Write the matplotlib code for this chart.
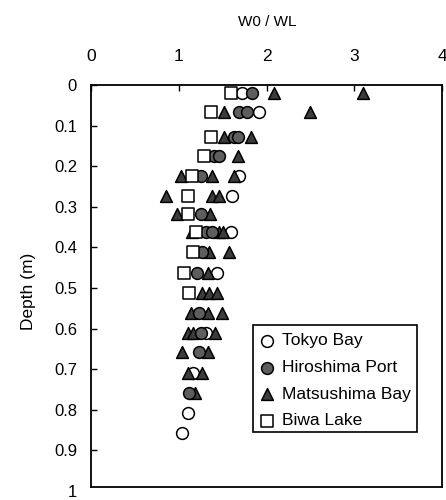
import matplotlib
matplotlib.use("Agg")
import matplotlib.pyplot as plt
from matplotlib.patches import Rectangle

plt.rcParams['font.family'] = ['Liberation Sans', 'DejaVu Sans']

# Depth (m) and W0/WL for each site
tokyo_depth = [0.02, 0.066, 0.225, 0.274, 0.362, 0.462, 0.611, 0.709, 0.809, 0.858]
tokyo_ratio = [1.72, 1.91, 1.69, 1.61, 1.59, 1.44, 1.31, 1.16, 1.11, 1.04]

hiroshima_depth = [0.02, 0.066, 0.066, 0.127, 0.127, 0.174, 0.174, 0.225, 0.318,
                   0.362, 0.362, 0.411, 0.462, 0.562, 0.611, 0.658, 0.758]
hiroshima_ratio = [1.84, 1.69, 1.78, 1.63, 1.68, 1.40, 1.46, 1.25, 1.25,
                   1.31, 1.38, 1.27, 1.21, 1.23, 1.25, 1.23, 1.12]

matsushima_depth = [0.02, 0.02, 0.066, 0.066, 0.127, 0.127, 0.174,
                    0.225, 0.225, 0.225, 0.274, 0.274, 0.274, 0.318, 0.318,
                    0.362, 0.362, 0.362, 0.411, 0.411, 0.462,
                    0.513, 0.513, 0.513, 0.562, 0.562, 0.562,
                    0.611, 0.611, 0.611, 0.658, 0.658, 0.709, 0.709, 0.758]
matsushima_ratio = [2.08, 3.10, 1.52, 2.50, 1.52, 1.82, 1.67,
                    1.02, 1.38, 1.63, 0.85, 1.38, 1.46, 0.98, 1.36,
                    1.15, 1.46, 1.50, 1.34, 1.57, 1.33,
                    1.26, 1.35, 1.44, 1.14, 1.33, 1.49,
                    1.10, 1.16, 1.41, 1.04, 1.33, 1.10, 1.27, 1.19]

biwa_depth = [0.02, 0.066, 0.127, 0.174, 0.225, 0.274, 0.318, 0.362, 0.411, 0.462, 0.513]
biwa_ratio = [1.60, 1.37, 1.37, 1.29, 1.15, 1.10, 1.10, 1.20, 1.16, 1.06, 1.12]

x_ticks = [0, 1, 2, 3, 4]
y_ticks = [0, 0.1, 0.2, 0.3, 0.4, 0.5, 0.6, 0.7, 0.8, 0.9, 1.0]
y_tick_labels = ["0", "0.1", "0.2", "0.3", "0.4", "0.5", "0.6", "0.7", "0.8", "0.9", "1"]

series = [
    ("Tokyo Bay", tokyo_ratio, tokyo_depth, dict(marker='o', facecolor='white')),
    ("Matsushima Bay", matsushima_ratio, matsushima_depth, dict(marker='^', facecolor='#3c3c3c')),
    ("Hiroshima Port", hiroshima_ratio, hiroshima_depth, dict(marker='o', facecolor='#5e5e5e')),
    ("Biwa Lake", biwa_ratio, biwa_depth, dict(marker='s', facecolor='white')),
]
legend_order = ["Tokyo Bay", "Hiroshima Port", "Matsushima Bay", "Biwa Lake"]

fig = plt.figure(figsize=(4.46, 5.0), dpi=100)
ax = fig.add_axes([91 / 446, 3 / 500, 351 / 446, 412 / 500])

ms = 72
for name, xs, ys, st in series:
    ax.scatter(xs, ys, s=ms, marker=st['marker'], facecolor=st['facecolor'],
               edgecolor='black', linewidth=1.1, zorder=3)

ax.set_xlim(0, 4)
ax.set_ylim(412 / 406, 0)

bottom_line = 402 / 406
for side in ['top', 'bottom', 'left', 'right']:
    ax.spines[side].set_linewidth(1.3)
ax.spines['bottom'].set_position(('data', bottom_line))
ax.spines['left'].set_bounds(0, bottom_line)
ax.spines['right'].set_bounds(0, bottom_line)

ax.xaxis.tick_top()
ax.set_xticks(x_ticks)
ax.set_xticklabels([str(v) for v in x_ticks])
ax.tick_params(axis='x', top=True, bottom=False, labeltop=True, labelbottom=False,
               direction='in', length=4, width=1, pad=15, labelsize=12.5)
ax.set_yticks(y_ticks)
ax.set_yticklabels(y_tick_labels)
ax.tick_params(axis='y', left=True, right=False, direction='in', length=4, width=1,
               pad=10, labelsize=12)
ax.yaxis.get_major_ticks()[-1].tick1line.set_visible(False)

ax.set_ylabel("Depth (m)", fontsize=12.5)
ax.yaxis.set_label_coords((36 - 91) / 351, 0.5)

fig.text(267 / 446, 1 - 22 / 500, "W0 / WL", ha='center', va='center', fontsize=11)

# Legend box
def fx(px):
    return (px - 91) / 351

def fy(py):
    return (497 - py) / 412

ax.add_patch(Rectangle((fx(253), fy(432)), fx(417) - fx(253), fy(325) - fy(432),
                       transform=ax.transAxes, facecolor='white', edgecolor='black',
                       linewidth=1.2, zorder=4))
styles = {name: st for name, _, _, st in series}
for i, name in enumerate(legend_order):
    yrow = fy(341 + i * 26.5)
    st = styles[name]
    ax.scatter([fx(267)], [yrow], s=ms, marker=st['marker'], facecolor=st['facecolor'],
               edgecolor='black', linewidth=1.1, transform=ax.transAxes, zorder=5,
               clip_on=False)
    ax.text(fx(282), yrow, name, transform=ax.transAxes, ha='left', va='center',
            fontsize=12.5, zorder=5)

fig.savefig("out.png", dpi=100)
